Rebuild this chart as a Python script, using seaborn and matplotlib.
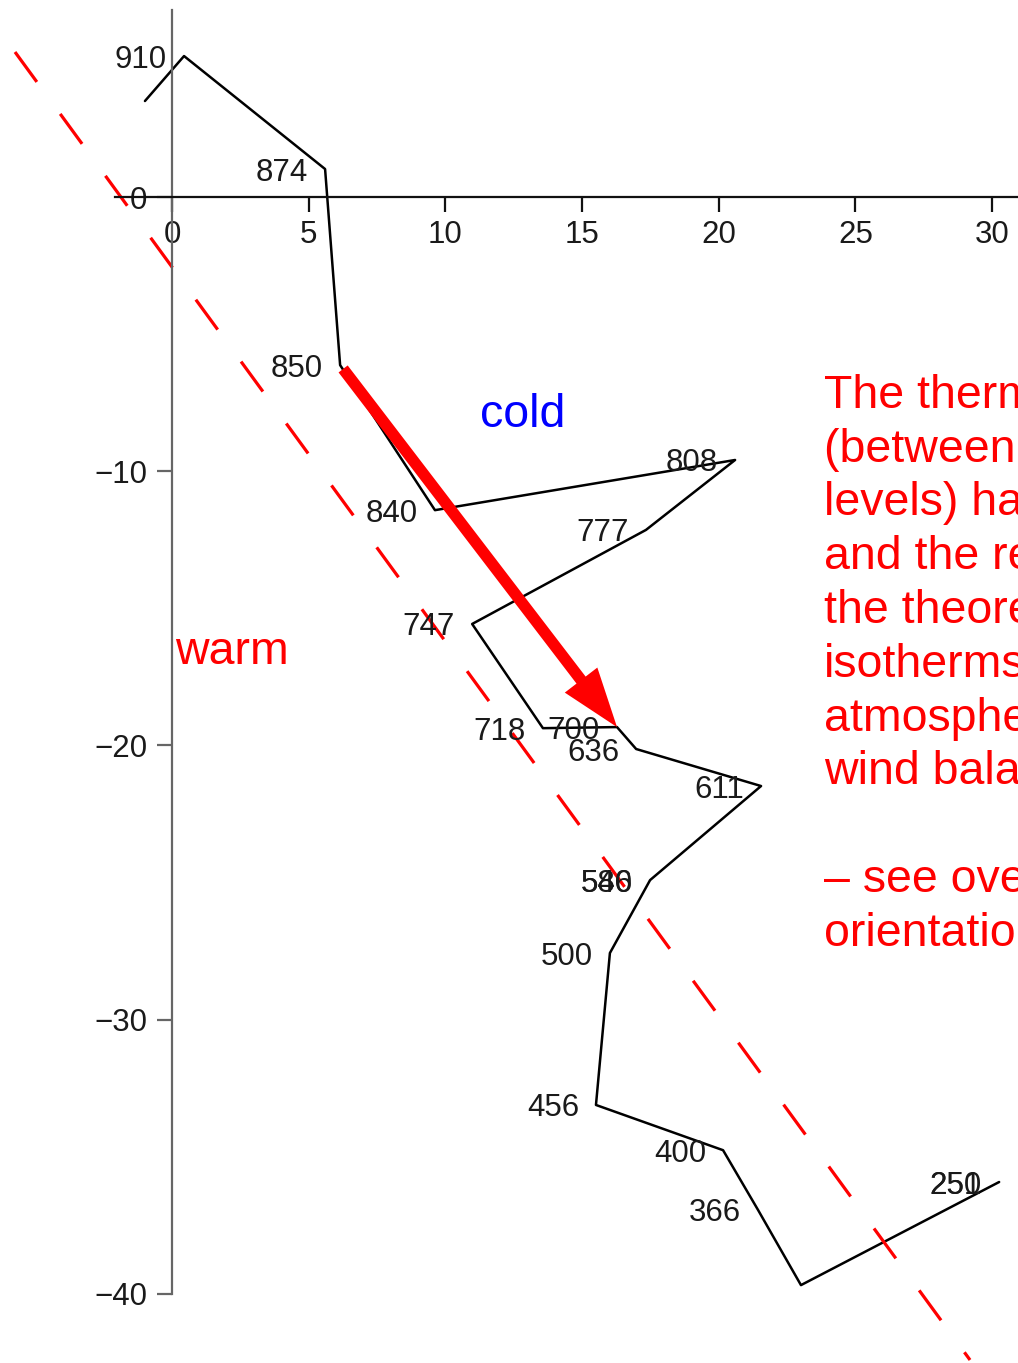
import matplotlib
matplotlib.use("Agg")
import matplotlib.pyplot as plt
import seaborn as sns
import pandas as pd

# ---------------- data (hodograph: wind components, m/s) ----------------
u_wind = [-0.99, 0.44, 5.60, 6.15, 9.62, 20.60, 17.34, 10.98, 13.57, 16.28, 16.98,
          21.55, 17.49, 17.49, 16.02, 15.51, 20.16, 21.44, 23.01, 30.26, 30.26]
v_wind = [3.50, 5.14, 1.02, -6.13, -11.42, -9.59, -12.14, -15.57, -19.37, -19.33, -20.13,
          -21.48, -24.91, -24.91, -27.57, -33.11, -34.76, -36.94, -39.68, -35.92, -35.92]
levels = ["", "910", "874", "850", "840", "808", "777", "747", "718", "700", "636",
          "611", "586", "540", "500", "456", "400", "366", "", "251", "250"]

x_ticks = [0, 5, 10, 15, 20, 25, 30]
y_ticks = [0, -10, -20, -30, -40]

# thermal-wind arrow (850 -> 700 hPa) and reference isotherm line
arrow_start = (6.26, -6.27)
arrow_end = (16.28, -19.33)
iso_x = [-5.744, 29.195]
iso_y = [5.288, -42.41]

note_lines = ["The thermal wind", "(between two", "levels) has", "and the relation",
              "the theoretical", "isotherms", "atmosphere", "wind balance", "",
              "– see overhead", "orientation"]

df = pd.DataFrame({"u": u_wind, "v": v_wind, "level": levels})

# ---------------- style ----------------
sns.set_style("white")
plt.rcParams["font.family"] = ["Liberation Sans", "DejaVu Sans"]
plt.rcParams["axes.unicode_minus"] = True

W, H = 1018, 1363
fig = plt.figure(figsize=(W / 100, H / 100), dpi=100)
ax = fig.add_axes([0, 0, 1, 1])

sns.lineplot(data=df, x="u", y="v", sort=False, estimator=None,
             color="black", linewidth=1.8, ax=ax)

for _, r in df.iterrows():
    if r["level"]:
        ax.annotate(r["level"], (r["u"], r["v"]), xytext=(-12.3, 0),
                    textcoords="offset points", ha="right", va="center_baseline",
                    fontsize=22.5, color="#1a1a1a")

# reference dashed line
ax.plot(iso_x, iso_y, color="#ff0000", lw=2.3, dashes=(11.6, 12.4),
        dash_capstyle="butt")

# thick red arrow
ax.arrow(arrow_start[0], arrow_start[1],
         arrow_end[0] - arrow_start[0], arrow_end[1] - arrow_start[1],
         width=0.42, head_width=1.5, head_length=2.16,
         length_includes_head=True, color="#ff0000", lw=0, zorder=5)

ax.set_xlim(-6.293, 30.95)
ax.set_ylim(-42.52, 7.184)

for s in ["top", "right"]:
    ax.spines[s].set_visible(False)
ax.spines["left"].set_position(("data", 0))
ax.spines["left"].set_bounds(-40, 6.82)
ax.spines["left"].set_color("#666666")
ax.spines["left"].set_linewidth(1.6)
ax.spines["bottom"].set_position(("data", 0))
ax.spines["bottom"].set_bounds(-2.1, 31.5)
ax.spines["bottom"].set_color("#111111")
ax.spines["bottom"].set_linewidth(1.6)

ax.set_xticks(x_ticks)
ax.set_yticks(y_ticks)
ax.set_xticklabels([str(t) for t in x_ticks])
ax.set_yticklabels([("\u2212" + str(-t)) if t < 0 else str(t) for t in y_ticks])
ax.tick_params(axis="x", bottom=True, direction="out", length=10.8, width=1.6, pad=6,
               labelsize=22.5, color="#111111", labelcolor="#1a1a1a")
ax.tick_params(axis="y", left=True, direction="out", length=10.8, width=1.6, pad=7,
               labelsize=22.5, color="#666666", labelcolor="#1a1a1a")
ax.set_xlabel("")
ax.set_ylabel("")
ax.grid(False)

# annotations
def px2fig(px, py):
    return px / W, 1 - py / H

fig.text(*px2fig(480, 427), "cold", color="#0000ff", fontsize=33.5, va="baseline", ha="left")
fig.text(*px2fig(175, 664), "warm", color="#ff0000", fontsize=33.5, va="baseline", ha="left")

for i, line in enumerate(note_lines):
    if line:
        fig.text(*px2fig(824, 407.8 + 53.8 * i), line, color="#ff0000",
                 fontsize=33.5, va="baseline", ha="left")

fig.savefig("out.png", dpi=100)
